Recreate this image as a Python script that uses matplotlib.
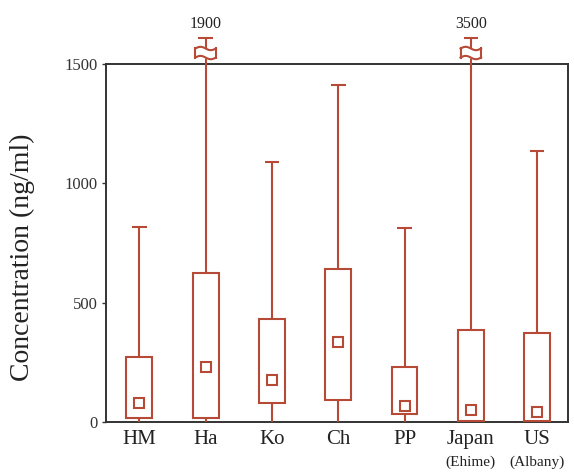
import numpy as np
import matplotlib.pyplot as plt

# data (ng/ml)
groups = ["HM", "Ha", "Ko", "Ch", "PP", "Japan", "US"]
sublabels = ["", "", "", "", "", "(Ehime)", "(Albany)"]
whis_lo = [0, 0, 0, 0, 0, 0, 0]
q1 = [15, 15, 80, 92, 34, 3, 3]
q3 = [272, 625, 432, 641, 230, 385, 373]
whis_hi = [815, 1900, 1090, 1410, 813, 3500, 1135]
means = [80, 230, 176, 335, 67, 50, 42]

col = "#b64a36"
ymax = 1500
y_cap = 1610   # where off-scale whiskers are drawn (outside the axes)
y_brk = 1546

plt.rcParams['font.family'] = ['Liberation Serif', 'DejaVu Serif']

fig = plt.figure(figsize=(5.74, 4.74), dpi=100)
ax = fig.add_axes([0.185, 0.11, 0.805, 0.755])

x = np.arange(1, len(groups) + 1)
bw = 0.39
cw = 0.22

for i in range(len(groups)):
    top = whis_hi[i] if whis_hi[i] <= ymax else y_cap
    # box
    ax.bar(x[i], q3[i] - q1[i], bottom=q1[i], width=bw, fill=False,
           edgecolor=col, linewidth=1.5, zorder=3)
    # whiskers
    ax.vlines(x[i], q3[i], top, color=col, lw=1.5, clip_on=False, zorder=3)
    ax.vlines(x[i], whis_lo[i], q1[i], color=col, lw=1.5, zorder=3)
    ax.hlines(top, x[i] - cw / 2, x[i] + cw / 2, color=col, lw=1.5,
              clip_on=False, zorder=3)
    if whis_hi[i] > ymax:
        # break symbol on the whisker
        t = np.linspace(-1, 1, 30)
        wx = x[i] + t * 0.155
        wav = -7 * np.sin(t * np.pi)
        up = y_brk + 19 + wav
        lo = y_brk - 19 + wav
        ax.fill_between(wx, lo, up, color="white", zorder=4, clip_on=False)
        ax.plot(wx, up, color=col, lw=1.5, clip_on=False, zorder=5)
        ax.plot(wx, lo, color=col, lw=1.5, clip_on=False, zorder=5)
        ax.plot([wx[0], wx[0]], [lo[0], up[0]], color=col, lw=1.5, clip_on=False, zorder=5)
        ax.plot([wx[-1], wx[-1]], [lo[-1], up[-1]], color=col, lw=1.5, clip_on=False, zorder=5)
        ax.text(x[i], y_cap + 22, str(whis_hi[i]), ha="center", va="bottom",
                fontsize=11.5, color="#222222")

ax.plot(x, means, linestyle="none", marker="s", markersize=6.5,
        markerfacecolor="white", markeredgecolor=col, markeredgewidth=1.5, zorder=6)

ax.set_xlim(0.5, 7.47)
ax.set_ylim(0, ymax)
ax.set_yticks([0, 500, 1000, 1500])
ax.set_xticks(x)
ax.set_xticklabels(groups, fontsize=15)
ax.tick_params(axis="x", length=0, pad=6, colors="#222222")
ax.tick_params(axis="y", length=3, width=1, labelsize=12, colors="#333333", pad=3)
for i in range(len(groups)):
    if sublabels[i]:
        ax.annotate(sublabels[i], (x[i], 0), xycoords=("data", "axes fraction"),
                    xytext=(0, -29), textcoords="offset points", ha="center",
                    va="center", fontsize=11, color="#222222")
for s in ax.spines.values():
    s.set_linewidth(1.4)
    s.set_color("#333333")

ax.set_ylabel("Concentration (ng/ml)", fontsize=20, color="#222222")
ax.yaxis.set_label_coords(-0.155, 0.46)

fig.savefig("out.png", dpi=100)
